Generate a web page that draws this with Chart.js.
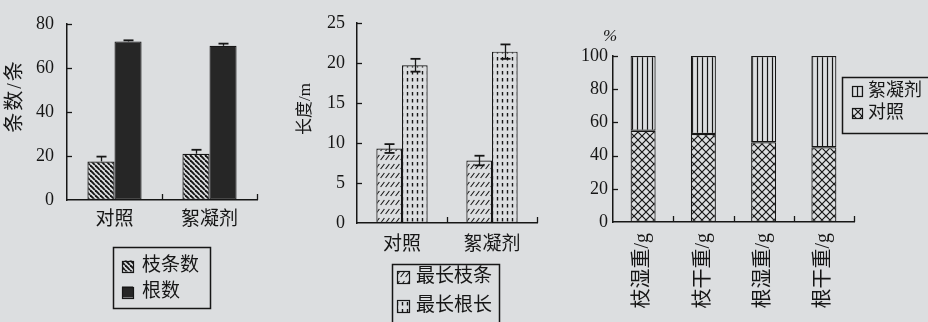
<!DOCTYPE html>
<html>
<head>
<meta charset="utf-8">
<script src="https://cdn.jsdelivr.net/npm/chart.js@4/dist/chart.umd.min.js"></script>
<style>
  html, body { margin: 0; padding: 0; background: #dcdee0; }
  #wrap { position: relative; width: 928px; height: 322px; background: #dcdee0; overflow: hidden; }
  canvas { position: absolute; top: 0; }
</style>
</head>
<body>
<div id="wrap">
  <canvas id="countChart" width="290" height="322" style="left:0"></canvas>
  <canvas id="lengthChart" width="280" height="322" style="left:290px"></canvas>
  <canvas id="weightChart" width="358" height="322" style="left:570px"></canvas>
</div>
<script>
// ---- data ----
const groups = ['对照', '絮凝剂'];

const shootCount = [17.5, 21];
const shootCountErr = [2.2, 1.8];
const rootCount = [72, 70];
const rootCountErr = [0.5, 1.0];

const longestShoot = [9.3, 7.8];
const longestShootErr = [0.55, 0.6];
const longestRoot = [19.7, 21.4];
const longestRootErr = [0.8, 0.9];

const weightItems = ['枝湿重/g', '枝干重/g', '根湿重/g', '根干重/g'];
const controlShare = [55, 53, 48, 45];
const flocShare = [45, 47, 52, 55];

const countTicks = [0, 20, 40, 60, 80];
const lengthTicks = [0, 5, 10, 15, 20, 25];
const shareTicks = [0, 20, 40, 60, 80, 100];

// ---- look ----
const BG = '#dcdee0';
const INK = '#161616';
const SERIF = '"Liberation Serif", "Noto Sans CJK SC", serif';
const CJK = '"Liberation Serif", "Noto Sans CJK SC", sans-serif';

Chart.defaults.animation = false;
Chart.defaults.color = INK;
Chart.defaults.font.family = SERIF;

function makePattern(w, h, draw) {
  const c = document.createElement('canvas');
  c.width = w; c.height = h;
  const g = c.getContext('2d');
  g.fillStyle = BG; g.fillRect(0, 0, w, h);
  g.strokeStyle = INK; g.fillStyle = INK;
  draw(g, w, h);
  return g.createPattern(c, 'repeat');
}

const diagStripes = makePattern(5, 5, (g, w, h) => {
  g.lineWidth = 1.9;
  for (let k = -1; k <= 1; k++) { g.beginPath(); g.moveTo(k * w, 0); g.lineTo(k * w + w, h); g.stroke(); }
});
const darkFill = '#262626';
const slashDashes = makePattern(5, 9, g => {
  g.lineWidth = 1.1; g.beginPath(); g.moveTo(0.6, 7); g.lineTo(4.4, 2); g.stroke();
});
const verticalDashes = makePattern(5, 7, g => {
  g.lineWidth = 1.4; g.beginPath(); g.moveTo(2.5, 1); g.lineTo(2.5, 4.5); g.stroke();
});
const verticalLines = makePattern(5, 4, g => {
  g.lineWidth = 1.2; g.beginPath(); g.moveTo(2.5, 0); g.lineTo(2.5, 4); g.stroke();
});
const crossHatch = makePattern(8, 8, g => {
  g.lineWidth = 1.2; g.beginPath();
  g.moveTo(0, 0); g.lineTo(8, 8); g.moveTo(8, 0); g.lineTo(0, 8); g.stroke();
});

// inward tick marks, error bars, boxed legend and free labels
const panelDecor = {
  id: 'panelDecor',
  afterDatasetsDraw(chart, args, opts) {
    const { ctx, chartArea: a, scales: { x, y } } = chart;
    ctx.save();
    ctx.strokeStyle = INK;
    ctx.lineWidth = 1.3;
    const seg = (x1, y1, x2, y2) => { ctx.beginPath(); ctx.moveTo(x1, y1); ctx.lineTo(x2, y2); ctx.stroke(); };

    y.ticks.forEach(t => {
      if (t.value === y.min) return;
      const py = Math.round(y.getPixelForValue(t.value)) + 0.5;
      seg(a.left, py, a.left + 5, py);
    });
    x.ticks.forEach((t, i) => {
      const px = Math.round(x.getPixelForValue(i + 0.5)) + 0.5;
      seg(px, a.bottom, px, a.bottom - 6);
    });

    chart.data.datasets.forEach((ds, di) => {
      if (!ds.errors) return;
      const meta = chart.getDatasetMeta(di);
      meta.data.forEach((bar, i) => {
        const v = ds.data[i], e = ds.errors[i];
        const top = y.getPixelForValue(v + e);
        const low = y.getPixelForValue(ds.errorBoth ? v - e : v);
        const cx = Math.round(bar.x) + 0.5;
        ctx.lineWidth = 1.3;
        seg(cx, top, cx, low);
        ctx.lineWidth = 1.8;
        seg(cx - 5, top, cx + 5, top);
        if (ds.errorBoth) seg(cx - 5, low, cx + 5, low);
      });
    });
    ctx.restore();
  },
  afterDraw(chart, args, opts) {
    const { ctx } = chart;
    ctx.save();
    ctx.fillStyle = INK;
    ctx.strokeStyle = INK;

    if (opts.yTitle) {
      const t = opts.yTitle;
      ctx.save();
      ctx.translate(t.x, t.y);
      ctx.rotate(-Math.PI / 2);
      ctx.font = t.font;
      if (t.spacing) ctx.letterSpacing = t.spacing;
      ctx.textAlign = 'center';
      ctx.textBaseline = 'middle';
      ctx.fillText(t.text, 0, 0);
      ctx.restore();
    }
    if (opts.unit) {
      ctx.font = opts.unit.font;
      ctx.textAlign = 'center';
      ctx.textBaseline = 'middle';
      ctx.fillText(opts.unit.text, opts.unit.x, opts.unit.y);
    }
    if (opts.legend) {
      const L = opts.legend;
      ctx.lineWidth = 1.5;
      ctx.strokeRect(L.x + 0.5, L.y + 0.5, L.w, L.h);
      ctx.font = L.font;
      ctx.textAlign = 'left';
      ctx.textBaseline = 'middle';
      L.order.forEach((di, k) => {
        const ds = chart.data.datasets[di];
        const cy = L.rows[k];
        const s = L.swatch;
        ctx.fillStyle = ds.backgroundColor;
        ctx.fillRect(L.swatchX, cy - s / 2, s, s);
        ctx.lineWidth = 1.2;
        ctx.strokeRect(L.swatchX + 0.5, Math.round(cy - s / 2) + 0.5, s, s);
        ctx.fillStyle = INK;
        ctx.fillText(ds.label, L.textX, cy);
      });
    }
    ctx.restore();
  }
};

function fixedWidth(w) { return scale => { scale.width = w; }; }
function fixedHeight(h) { return scale => { scale.height = h; }; }

function barSet(label, data, fill, extra) {
  return Object.assign({
    label, data,
    backgroundColor: fill,
    borderColor: INK,
    borderWidth: 1.2,
    borderSkipped: false,
    barPercentage: 1,
  }, extra || {});
}

function valueAxis(max, step, tickList, pad, size, afterFit) {
  return {
    min: 0, max,
    afterFit,
    afterBuildTicks: s => { s.ticks = tickList.map(v => ({ value: v })); },
    grid: { display: false, drawTicks: false },
    border: { display: true, color: INK, width: 1.5 },
    ticks: { stepSize: step, padding: pad, font: { family: SERIF, size }, color: INK }
  };
}

function groupAxis(pad, size, afterFit, rotate) {
  return {
    afterFit,
    grid: { display: false, drawTicks: false },
    border: { display: true, color: INK, width: 1.5 },
    ticks: {
      padding: pad, autoSkip: false,
      minRotation: rotate ? 90 : 0, maxRotation: rotate ? 90 : 0,
      font: { family: CJK, size }, color: INK
    }
  };
}

// panel 1: shoot and root counts
new Chart(document.getElementById('countChart'), {
  type: 'bar',
  data: {
    labels: groups,
    datasets: [
      barSet('枝条数', shootCount, diagStripes, { errors: shootCountErr, categoryPercentage: 0.57 }),
      barSet('根数', rootCount, darkFill, { errors: rootCountErr, categoryPercentage: 0.57 })
    ]
  },
  options: {
    responsive: false,
    devicePixelRatio: 1,
    layout: { padding: { left: 0, top: 14, right: 33, bottom: 0 } },
    plugins: {
      legend: { display: false }, tooltip: { enabled: false },
      panelDecor: {
        yTitle: { text: '条数/条', x: 16, y: 96, font: '20px ' + CJK, spacing: '2px' },
        legend: { x: 113, y: 247, w: 97, h: 61, order: [0, 1], rows: [266, 292],
                  swatchX: 122, swatch: 11, textX: 142, font: '19px ' + CJK }
      }
    },
    scales: {
      x: groupAxis(9, 19, fixedHeight(122), false),
      y: valueAxis(80, 20, countTicks, 13, 18, fixedWidth(67))
    }
  },
  plugins: [panelDecor]
});

// panel 2: longest shoot and root length
new Chart(document.getElementById('lengthChart'), {
  type: 'bar',
  data: {
    labels: groups,
    datasets: [
      barSet('最长枝条', longestShoot, slashDashes, { errors: longestShootErr, errorBoth: true, categoryPercentage: 0.57 }),
      barSet('最长根长', longestRoot, verticalDashes, { errors: longestRootErr, errorBoth: true, categoryPercentage: 0.57 })
    ]
  },
  options: {
    responsive: false,
    devicePixelRatio: 1,
    layout: { padding: { left: 0, top: 18, right: 33, bottom: 0 } },
    plugins: {
      legend: { display: false }, tooltip: { enabled: false },
      panelDecor: {
        yTitle: { text: '长度/m', x: 16, y: 109, font: '17px ' + CJK },
        legend: { x: 102, y: 264, w: 107, h: 80, order: [0, 1], rows: [277, 306],
                  swatchX: 107, swatch: 12, textX: 126, font: '19px ' + CJK }
      }
    },
    scales: {
      x: groupAxis(11, 19, fixedHeight(99), false),
      y: valueAxis(25, 5, lengthTicks, 12, 18, fixedWidth(67))
    }
  },
  plugins: [panelDecor]
});

// panel 3: weight shares, stacked to 100%
new Chart(document.getElementById('weightChart'), {
  type: 'bar',
  data: {
    labels: weightItems,
    datasets: [
      barSet('对照', controlShare, crossHatch, { categoryPercentage: 0.415 }),
      barSet('絮凝剂', flocShare, verticalLines, { categoryPercentage: 0.415 })
    ]
  },
  options: {
    responsive: false,
    devicePixelRatio: 1,
    layout: { padding: { left: 0, top: 56, right: 74, bottom: 0 } },
    plugins: {
      legend: { display: false }, tooltip: { enabled: false },
      panelDecor: {
        unit: { text: '%', x: 40, y: 37, font: 'italic 17px ' + SERIF },
        legend: { x: 272, y: 77, w: 100, h: 56, order: [1, 0], rows: [91, 113],
                  swatchX: 282, swatch: 10, textX: 298, font: '18px ' + CJK }
      }
    },
    scales: {
      x: Object.assign(groupAxis(11, 20, fixedHeight(100), true), { stacked: true }),
      y: Object.assign(valueAxis(100, 20, shareTicks, 5, 18, fixedWidth(43)), { stacked: true })
    }
  },
  plugins: [panelDecor]
});
</script>
</body>
</html>
